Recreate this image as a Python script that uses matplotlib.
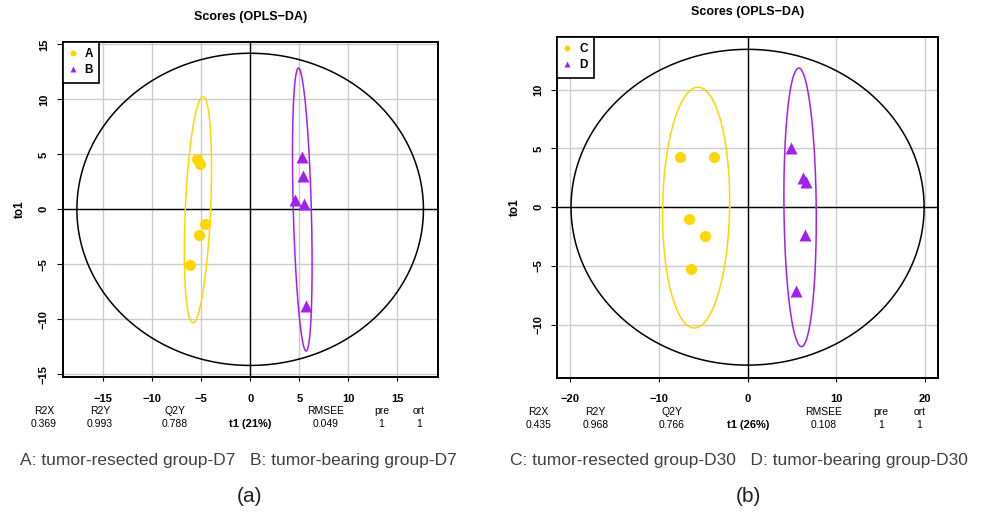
import numpy as np
import matplotlib.pyplot as plt

plt.rcParams['font.family'] = ['Liberation Sans', 'DejaVu Sans']

# panel (a): D7
a_x = [-5.42, -5.09, -4.61, -5.26, -6.17]
a_y = [4.56, 4.13, -1.34, -2.34, -5.08]
b_x = [5.32, 5.42, 4.58, 5.49, 5.66]
b_y = [4.80, 3.06, 0.85, 0.45, -8.82]
# panel (b): D30
c_x = [-7.65, -3.83, -6.60, -4.80, -6.34]
c_y = [4.26, 4.28, -0.97, -2.44, -5.25]
d_x = [4.85, 6.24, 6.54, 6.50, 5.45]
d_y = [5.07, 2.47, 2.18, -2.36, -7.12]

# ellipses: centre x, centre y, half width, half height, shear (top x offset)
ell_a = (-5.32, -0.03, 1.29, 10.30, 0.51)
ell_b = (5.31, -0.02, 0.92, 12.87, -0.39)
ell_c = (-5.80, -0.03, 3.78, 10.24, 0.20)
ell_d = (5.92, -0.01, 1.82, 11.85, -0.15)
hot_a = (17.65, 14.20)
hot_b = (19.90, 13.43)

stats_names = ['R2X', 'R2Y', 'Q2Y', 'RMSEE', 'pre', 'ort']
stats_a = ['0.369', '0.993', '0.788', '0.049', '1', '1']
stats_b = ['0.435', '0.968', '0.766', '0.108', '1', '1']
stats_pos = [-0.05, 0.10, 0.30, 0.70, 0.85, 0.95]

yellow = '#FFD700'
purple = '#A020F0'

fig = plt.figure(figsize=(9.82, 5.15), dpi=100)


def ellipse(ax, e, color):
    t = np.linspace(0, 2 * np.pi, 300)
    cx, cy, rx, ry, sx = e
    ax.plot(cx + rx * np.cos(t) + sx * np.sin(t), cy + ry * np.sin(t),
            color=color, lw=1.1, zorder=3)


def panel(rect, xlim, ylim, xt, yt, g1, g2, e1, e2, hot, names, stats, xlab):
    ax = fig.add_axes(rect)
    ax.set_xlim(xlim)
    ax.set_ylim(ylim)
    ax.set_xticks(xt)
    ax.set_yticks(yt)
    ax.grid(True, color='#CCCCCC', lw=1.0)
    ax.set_axisbelow(True)
    ax.axhline(0, color='black', lw=1.0, zorder=2)
    ax.axvline(0, color='black', lw=1.0, zorder=2)
    t = np.linspace(0, 2 * np.pi, 400)
    ax.plot(hot[0] * np.cos(t), hot[1] * np.sin(t), color='black', lw=1.1, zorder=2)
    ellipse(ax, e1, yellow)
    ellipse(ax, e2, purple)
    ax.plot(g1[0], g1[1], 'o', color=yellow, ms=8, mec='none', zorder=4, label=names[0])
    ax.plot(g2[0], g2[1], '^', color=purple, ms=9, mec='none', zorder=4, label=names[1])
    for s in ax.spines.values():
        s.set_linewidth(1.4)
    ax.tick_params(axis='x', length=3, width=0.8, labelsize=8, pad=9)
    ax.tick_params(axis='y', length=4, width=0.8, labelsize=8, labelrotation=90, pad=6)
    for lb in ax.get_xticklabels() + ax.get_yticklabels():
        lb.set_fontweight('bold')
    for lb in ax.get_yticklabels():
        lb.set_va('center')
    ax.set_ylabel('to1', fontsize=8.5, fontweight='bold', labelpad=9)
    ax.set_title('Scores (OPLS\u2212DA)', fontsize=9, fontweight='bold', pad=15.5)
    leg = ax.legend(loc='upper left', borderaxespad=0, fancybox=False, framealpha=1,
                    edgecolor='black', handlelength=0.6, handletextpad=0.7, markerscale=0.55,
                    labelspacing=0.35, borderpad=0.55, prop={'weight': 'bold', 'size': 8.5})
    leg.get_frame().set_linewidth(1.2)
    for x, n, v in zip(stats_pos, stats_names, stats):
        ax.text(x, -0.10, n, transform=ax.transAxes, ha='center', va='center', fontsize=7.5)
        ax.text(x, -0.139, v, transform=ax.transAxes, ha='center', va='center', fontsize=7.5)
    ax.text(0.5, -0.139, xlab, transform=ax.transAxes, ha='center', va='center',
            fontsize=8, fontweight='bold')
    return ax


axa = panel([0.0638, 0.268, 0.3819, 0.651], (-19.1, 19.1), (-15.25, 15.25),
            [-15, -10, -5, 0, 5, 10, 15], [-15, -10, -5, 0, 5, 10, 15],
            (a_x, a_y), (b_x, b_y), ell_a, ell_b, hot_a, ['A', 'B'], stats_a, 't1 (21%)')
axb = panel([0.5675, 0.2666, 0.388, 0.662], (-21.45, 21.5), (-14.5, 14.5),
            [-20, -10, 0, 10, 20], [-10, -5, 0, 5, 10],
            (c_x, c_y), (d_x, d_y), ell_c, ell_d, hot_b, ['C', 'D'], stats_b, 't1 (26%)')

fig.text(238 / 982, 1 - 461 / 515, 'A: tumor-resected group-D7   B: tumor-bearing group-D7',
         ha='center', va='center', fontsize=12.5, color='#404040')
fig.text(250 / 982, 1 - 497 / 515, '(a)', ha='center', va='center', fontsize=15, color='#202020')
fig.text(739 / 982, 1 - 461 / 515, 'C: tumor-resected group-D30   D: tumor-bearing group-D30',
         ha='center', va='center', fontsize=12.5, color='#404040')
fig.text(748 / 982, 1 - 497 / 515, '(b)', ha='center', va='center', fontsize=15, color='#202020')

fig.savefig('out.png', dpi=100)
